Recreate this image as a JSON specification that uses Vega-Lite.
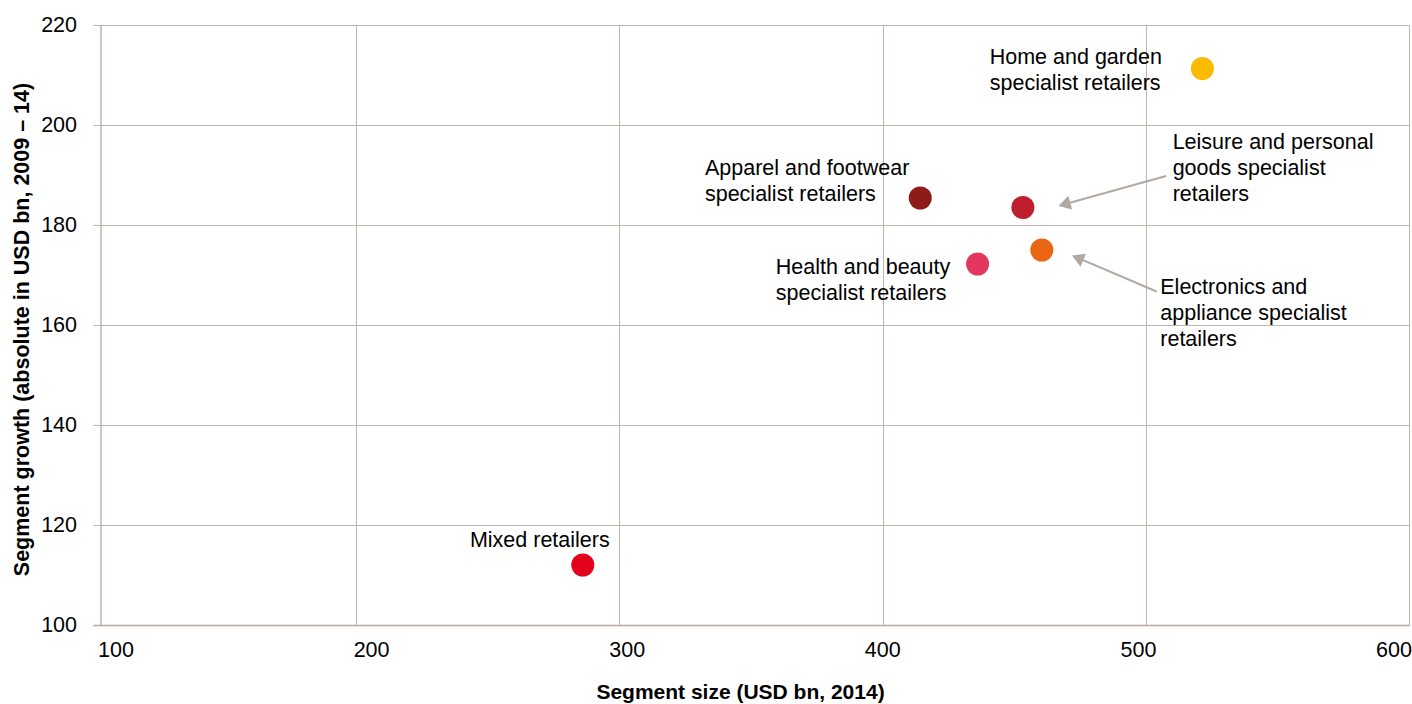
{
  "$schema": "https://vega.github.io/schema/vega-lite/v6.json",
  "width": 1316,
  "height": 600,
  "autosize": {"type": "none"},
  "padding": {"left": 93, "top": 25, "right": 3, "bottom": 79},
  "background": "white",
  "config": {"view": {"stroke": null}, "font": "Liberation Sans"},
  "datasets": {
    "points": [
      {"segment": "Home and garden specialist retailers", "size": 521.5, "growth": 211.3},
      {"segment": "Apparel and footwear specialist retailers", "size": 414.3, "growth": 185.4},
      {"segment": "Leisure and personal goods specialist retailers", "size": 453.3, "growth": 183.5},
      {"segment": "Electronics and appliance specialist retailers", "size": 460.5, "growth": 175.0},
      {"segment": "Health and beauty specialist retailers", "size": 436.1, "growth": 172.2},
      {"segment": "Mixed retailers", "size": 286.1, "growth": 112.0}
    ],
    "labels": [
      {"text": "Home and garden\nspecialist retailers", "lx": 440.7, "ly": 212.3},
      {"text": "Apparel and footwear\nspecialist retailers", "lx": 332.5, "ly": 190.0},
      {"text": "Leisure and personal\ngoods specialist\nretailers", "lx": 510.2, "ly": 195.3},
      {"text": "Electronics and\nappliance specialist\nretailers", "lx": 505.5, "ly": 166.2},
      {"text": "Health and beauty\nspecialist retailers", "lx": 359.4, "ly": 170.3},
      {"text": "Mixed retailers", "lx": 243.2, "ly": 115.7}
    ],
    "arrows": [
      {"arrow": "leisure", "x": 507.7, "y": 189.8, "x2": 469.8, "y2": 184.26},
      {"arrow": "electronics", "x": 504.1, "y": 166.7, "x2": 474.8, "y2": 173.28}
    ]
  },
  "layer": [
    {
      "data": {"name": "points"},
      "mark": {"type": "circle", "size": 530, "opacity": 1},
      "encoding": {
        "x": {
          "field": "size", "type": "quantitative",
          "scale": {"domain": [100, 600], "nice": false, "zero": false},
          "axis": {
            "title": "Segment size (USD bn, 2014)",
            "values": [100, 200, 300, 400, 500, 600],
            "grid": true,
            "gridColor": "#BFB7AF",
            "gridWidth": 1,
            "gridOpacity": {"condition": {"test": "datum.value === 100", "value": 0}, "value": 1},
            "domainColor": "#B3AAA2",
            "domainWidth": 1.3,
            "ticks": false,
            "labelFont": "Liberation Sans",
            "labelFontSize": 21.5,
            "labelColor": "#000000",
            "labelBaseline": "alphabetic",
            "labelPadding": 31,
            "labelFlush": false,
            "labelOverlap": false,
            "labelOffset": {
              "condition": [
                {"test": "datum.value === 100", "value": 22.5},
                {"test": "datum.value === 200", "value": 14.9},
                {"test": "datum.value === 300", "value": 7.3},
                {"test": "datum.value === 400", "value": -0.3},
                {"test": "datum.value === 500", "value": -7.9},
                {"test": "datum.value === 600", "value": -15.5}
              ],
              "value": 0
            },
            "titleFont": "Liberation Sans",
            "titleFontSize": 21,
            "titleFontWeight": "bold",
            "titleColor": "#000000",
            "titleBaseline": "alphabetic",
            "titleAlign": "center",
            "titleX": 647,
            "titleY": 73
          }
        },
        "y": {
          "field": "growth", "type": "quantitative",
          "scale": {"domain": [100, 220], "nice": false, "zero": false},
          "axis": {
            "title": "Segment growth (absolute in USD bn, 2009 – 14)",
            "values": [100, 120, 140, 160, 180, 200, 220],
            "grid": true,
            "gridColor": "#BFB7AF",
            "gridWidth": 1,
            "offset": -7.5,
            "domainColor": "#B3AAA2",
            "domainWidth": 1.3,
            "ticks": false,
            "labelFont": "Liberation Sans",
            "labelFontSize": 21.5,
            "labelColor": "#000000",
            "labelAlign": "right",
            "labelBaseline": "middle",
            "labelPadding": 24,
            "labelOverlap": false,
            "titleFont": "Liberation Sans",
            "titleFontSize": 21.5,
            "titleFontWeight": "bold",
            "titleColor": "#000000",
            "titleAngle": -90,
            "titleBaseline": "alphabetic",
            "titleAlign": "center",
            "titleX": -72,
            "titleY": 304
          }
        },
        "color": {
          "field": "segment", "type": "nominal", "legend": null,
          "scale": {
            "domain": ["Home and garden specialist retailers", "Apparel and footwear specialist retailers", "Leisure and personal goods specialist retailers", "Electronics and appliance specialist retailers", "Health and beauty specialist retailers", "Mixed retailers"],
            "range": ["#FABB00", "#8E1B17", "#BE1E2D", "#EA6512", "#E43760", "#E2001A"]
          }
        }
      }
    },
    {
      "data": {"name": "arrows"},
      "mark": {"type": "rule", "color": "#B1A9A1", "strokeWidth": 2},
      "encoding": {
        "x": {"field": "x", "type": "quantitative"},
        "y": {"field": "y", "type": "quantitative"},
        "x2": {"field": "x2"},
        "y2": {"field": "y2"}
      }
    },
    {
      "data": {"name": "arrows"},
      "transform": [{"filter": "datum.arrow === 'leisure'"}],
      "mark": {"type": "point", "shape": "triangle", "filled": true, "color": "#B1A9A1", "opacity": 1, "size": 200, "angle": 254.5},
      "encoding": {
        "x": {"field": "x2", "type": "quantitative"},
        "y": {"field": "y2", "type": "quantitative"}
      }
    },
    {
      "data": {"name": "arrows"},
      "transform": [{"filter": "datum.arrow === 'electronics'"}],
      "mark": {"type": "point", "shape": "triangle", "filled": true, "color": "#B1A9A1", "opacity": 1, "size": 200, "angle": 293.2},
      "encoding": {
        "x": {"field": "x2", "type": "quantitative"},
        "y": {"field": "y2", "type": "quantitative"}
      }
    },
    {
      "data": {"name": "labels"},
      "mark": {"type": "text", "align": "left", "baseline": "alphabetic", "lineBreak": "\n", "lineHeight": 26, "font": "Liberation Sans", "fontSize": 21.5, "color": "#000000"},
      "encoding": {
        "x": {"field": "lx", "type": "quantitative"},
        "y": {"field": "ly", "type": "quantitative"},
        "text": {"field": "text"}
      }
    }
  ]
}
